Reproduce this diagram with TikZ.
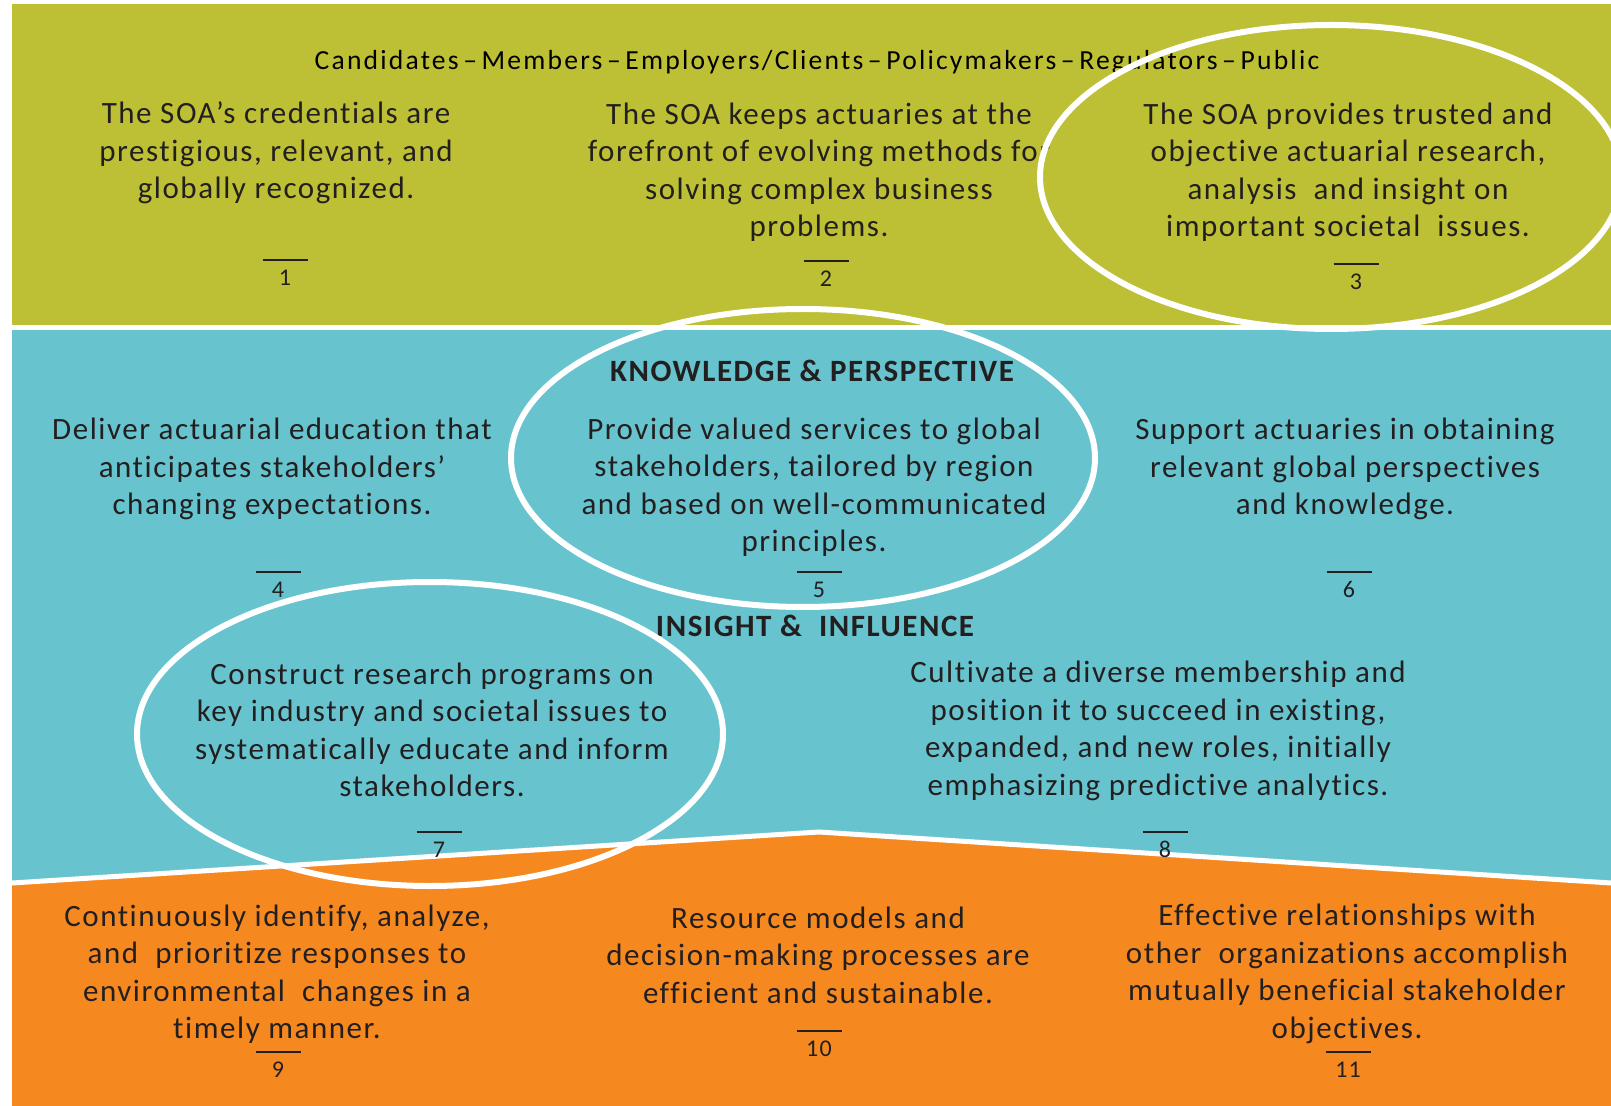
\documentclass[tikz,border=0pt]{standalone}
\usepackage{fontspec}
\setmainfont{Carlito}[Ligatures=NoCommon, LetterSpace=5]
\newfontfamily\hdrfont{Carlito}[Ligatures=NoCommon, LetterSpace=8]
\usetikzlibrary{calc}
\definecolor{band1}{RGB}{189,192,52}
\definecolor{band2}{RGB}{103,196,206}
\definecolor{band3}{RGB}{245,137,32}
\definecolor{ink}{RGB}{35,31,32}
\newcommand{\numtag}[1]{\rule{22.5pt}{0.7pt}\\[-1.5pt]#1}
\newcommand{\sep}{\,–\,}
\tikzset{
  goal/.style={align=center, inner sep=0pt, text=ink, font=\fontsize{15.5}{18.75}\selectfont},
  head/.style={inner sep=0pt, text=ink, font=\bfseries\fontsize{15.5}{18.75}\selectfont},
  numlbl/.style={align=center, anchor=north, inner sep=0pt, text=ink, font=\fontsize{12}{14}\selectfont},
  ring/.style={draw=white, line width=3pt},
}
\begin{document}
\begin{tikzpicture}[x=0.5pt,y=-0.5pt]
			\useasboundingbox (0,0) rectangle (1611,1106);
			\clip (0,0) rectangle (1611,1106);
			\path
			(12,4) coordinate (TL)
			(1611,325) coordinate (TR)
			(12,330) coordinate (ML)
			(1611,883) coordinate (MR)
			(12,883) coordinate (BL)
			(819,832) coordinate (BP)
			(1611,1106) coordinate (BR)
			;
			\fill[white] (0,0) rectangle (1611,1106);
			\fill[band1] (TL) rectangle (TR);
			\fill[band2] (ML) rectangle (MR);
			\fill[band3] (BL) -- (BP) -- (MR) -- (BR) -- (BL|-BR) -- cycle;
			\draw[white, line width=2.5pt] (BL) -- (BP) -- (MR);
			% stakeholders
			\node[inner sep=0pt, font=\hdrfont\fontsize{13.8}{15}\selectfont] (hdr) at (817,62)
			{Candidates\sep Members\sep Employers/Clients\sep Policymakers\sep Regulators\sep Public};
			% top band
			\node[goal] (t1) at (276,153) {The SOA’s credentials are\\prestigious, relevant, and\\globally recognized.};
			\node[goal] (t2) at (819,172) {The SOA keeps actuaries at the\\forefront of evolving methods for\\solving complex business\\problems.};
			\node[goal] (t3) at (1348,172) {The SOA provides trusted and\\objective actuarial research,\\analysis~ and insight on\\important societal~ issues.};
			% middle band
			\node[head] (hk) at (812,371) {KNOWLEDGE \& PERSPECTIVE};
			\node[goal] (t4) at (272,469) {Deliver actuarial education that\\anticipates stakeholders’\\changing expectations.};
			\node[goal] (t5) at (814,487) {Provide valued services to global\\stakeholders, tailored by region\\and based on well-communicated\\principles.};
			\node[goal] (t6) at (1345,469) {Support actuaries in obtaining\\relevant global perspectives\\and knowledge.};
			\node[head] (hi) at (815,626) {INSIGHT \&~ INFLUENCE};
			\node[goal] (t7) at (432,730) {Construct research programs on\\key industry and societal issues to\\systematically educate and inform\\stakeholders.};
			\node[goal] (t8) at (1158,731) {Cultivate a diverse membership and\\position it to succeed in existing,\\expanded, and new roles, initially\\emphasizing predictive analytics.};
			% bottom band
			\node[goal] (t9) at (277,974) {Continuously identify, analyze,\\and~ prioritize responses to\\environmental~ changes in a\\timely manner.};
			\node[goal] (t10) at (818,955) {Resource models and\\decision-making processes are\\efficient and sustainable.};
			\node[goal] (t11) at (1347,974) {Effective relationships with\\other~ organizations accomplish\\mutually beneficial stakeholder\\objectives.};
			\foreach \n/\x/\y in {1/285/259,2/826/260,3/1356/263,4/278/571,5/819/571,6/1349/571,7/439/831,8/1165/831,9/278/1051,10/819/1030,11/1348/1051}
			\node[numlbl] (n\n) at (\x,\y) {\numtag{\n}};
			% highlighted goals
			\draw[ring] (1331,177) ellipse [x radius=291, y radius=152];
			\draw[ring] (803,458) ellipse [x radius=292, y radius=149];
			\draw[ring] (430,734) ellipse [x radius=293, y radius=152];
		\end{tikzpicture}
\end{document}
